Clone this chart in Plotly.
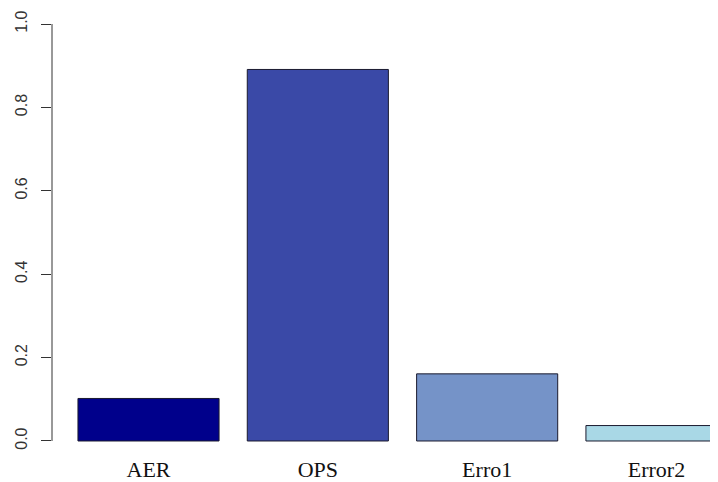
import plotly.graph_objects as go

categories = ["AER", "OPS", "Erro1", "Error2"]
values = [0.102, 0.891, 0.161, 0.037]
colors = ["#00008B", "#3A49A7", "#7593C8", "#A9D8E6"]
y_ticks = [0.0, 0.2, 0.4, 0.6, 0.8, 1.0]

# R barplot layout: width 1, space 0.2 -> bargap 0.2/1.2 ; xlim in R units
space = 0.2
def r_to_cat(rx):
    return (rx - (space + 0.5)) / (1 + space)

fig = go.Figure(go.Bar(
    x=categories, y=values,
    marker=dict(color=colors, line=dict(color="#1a1a2e", width=1)),
    width=1 / (1 + space),
))

# page has an 8px body margin, so the figure is 8px smaller in each direction
fig.update_layout(
    width=710, height=474,
    margin=dict(l=44, r=0, t=0, b=24, autoexpand=False),
    paper_bgcolor="white", plot_bgcolor="white",
    showlegend=False,
    xaxis=dict(
        range=[r_to_cat(0.016), r_to_cat(4.736)],
        automargin=False,
        showgrid=False, zeroline=False, showline=False, ticks="",
        tickfont=dict(family="Liberation Serif", size=22, color="#111"),
        ticklabelstandoff=-4,
    ),
    yaxis=dict(
        range=[-0.0408, 1.0384],
        automargin=False,
        tickvals=y_ticks, ticktext=[f"{v:.1f}" for v in y_ticks],
        showgrid=False, zeroline=False, showline=False,
        ticks="outside", ticklen=10, tickwidth=1, tickcolor="#333",
        tickangle=-90,
        tickfont=dict(family="Liberation Sans", size=16, color="#333"),
        ticklabelstandoff=8,
    ),
    shapes=[dict(type="line", xref="paper", x0=0, x1=0, yref="y", y0=0, y1=1,
                 line=dict(color="#333", width=1))],
)

fig.write_html("out.html")
